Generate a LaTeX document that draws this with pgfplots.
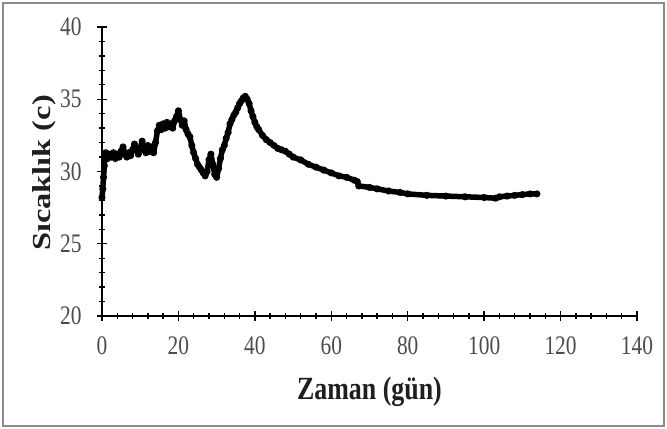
\documentclass[border=0pt]{standalone}
\usepackage{fontspec}
\setmainfont{Liberation Serif}
\usepackage{graphicx}
\usepackage{pgfplots}
\pgfplotsset{compat=1.18}

\begin{document}
\begin{tikzpicture}
\begin{axis}[
  at={(0,0)}, anchor=south west,
  scale only axis, width=535bp, height=289bp,
  xmin=0, xmax=140, ymin=20, ymax=40,
  axis x line=bottom, axis y line=left,
  axis line style={-, line width=1.6bp, black},
  xtick distance=20, ytick distance=5,
  minor x tick num=4, minor y tick num=4,
  tick align=center,
  major tick length=10bp, minor tick length=6bp,
  every tick/.style={black, line width=1.4bp},
  /pgf/number format/assume math mode=true,
  tick label style={font=\fontsize{21.5}{24}\selectfont, text=black!70},
  xticklabel={\scalebox{1}[1.25]{\pgfmathprintnumber{\tick}}},
  yticklabel={\scalebox{1}[1.25]{\pgfmathprintnumber{\tick}}},
  xticklabel style={yshift=-12bp},
  yticklabel style={xshift=-12bp},
  xlabel={\scalebox{1}[1.25]{\bfseries Zaman (gün)}},
  ylabel={\scalebox{1.25}[1]{\bfseries Sıcaklık (c)}},
  label style={font=\fontsize{26}{30}\selectfont, text=black!88},
  xlabel style={at={(axis description cs:0.5,-0.262)}, anchor=center},
  ylabel style={at={(axis description cs:-0.108,0.495)}, anchor=center},
  clip=false,
]
\addplot[black, line width=5.5bp, line join=round, line cap=round, mark=o, mark size=3bp,
  mark options={line width=1.1bp, fill=none}] coordinates {
  (0,28.2)(0.2,28.8)(0.4,29.6)(0.6,30.4)(0.8,31.2)(1.0,31.3)(1.5,30.9)
  (2,31.2)(2.5,31.0)(3,31.3)(3.5,30.9)(4,31.2)(4.5,31.0)(5,31.4)(5.5,31.7)
  (6,31.2)(6.5,31.0)(7,31.3)(7.5,31.1)(8,31.5)(8.5,31.9)(9,31.5)(9.5,31.2)
  (10,31.6)(10.5,32.1)(11,31.5)(11.5,31.3)(12,31.8)(12.5,31.4)(13,31.7)
  (13.5,31.3)(14,32.0)(14.5,32.8)(15,33.2)(15.5,32.9)(16,33.3)(16.5,33.0)
  (17,33.4)(17.5,33.1)(18,33.3)(18.5,33.0)(19,33.5)(19.5,33.8)(20,34.2)
  (20.5,33.6)(21,33.2)(21.5,33.5)(22,32.9)(22.5,32.6)(23,32.4)(23.5,31.8)
  (24,31.3)(24.5,30.9)(25,30.5)(25.5,30.3)(26,30.1)(26.5,29.9)(27,29.7)
  (27.5,30.0)(28,30.8)(28.5,31.2)(29,30.5)(29.5,29.8)(30,29.6)(30.5,30.2)
  (31,30.9)(31.5,31.5)(32,31.8)(32.5,32.3)(33,32.7)(33.5,33.3)(34,33.6)
  (34.5,33.9)(35,34.1)(35.5,34.4)(36,34.7)(36.5,34.9)(37,35.1)(37.5,35.2)
  (38,35.0)(38.5,34.7)(39,34.2)(39.5,33.8)(40,33.4)(40.5,33.1)(41,32.9)
  (42,32.5)(43,32.2)(44,32.0)(45,31.8)(46,31.6)(47,31.5)(48,31.4)(49,31.2)
  (50,31.0)(52,30.8)(54,30.5)(56,30.3)(58,30.1)(60,29.9)(62,29.7)(64,29.6)
  (66,29.4)(66.8,29.3)(67.2,29.0)(70,28.9)(72,28.8)(75,28.65)(78,28.55)
  (80,28.45)(85,28.35)(90,28.3)(95,28.25)(100,28.2)(103,28.15)(104,28.25)
  (106,28.3)(108,28.35)(110,28.4)(112,28.45)(113.8,28.45)
};
\end{axis}
\draw[black!45, line width=1.5bp] (-99bp,-110bp) rectangle (562bp,313bp);
\pgfresetboundingbox
\useasboundingbox (-102bp,-113bp) rectangle (565bp,316bp);
\end{tikzpicture}
\end{document}
